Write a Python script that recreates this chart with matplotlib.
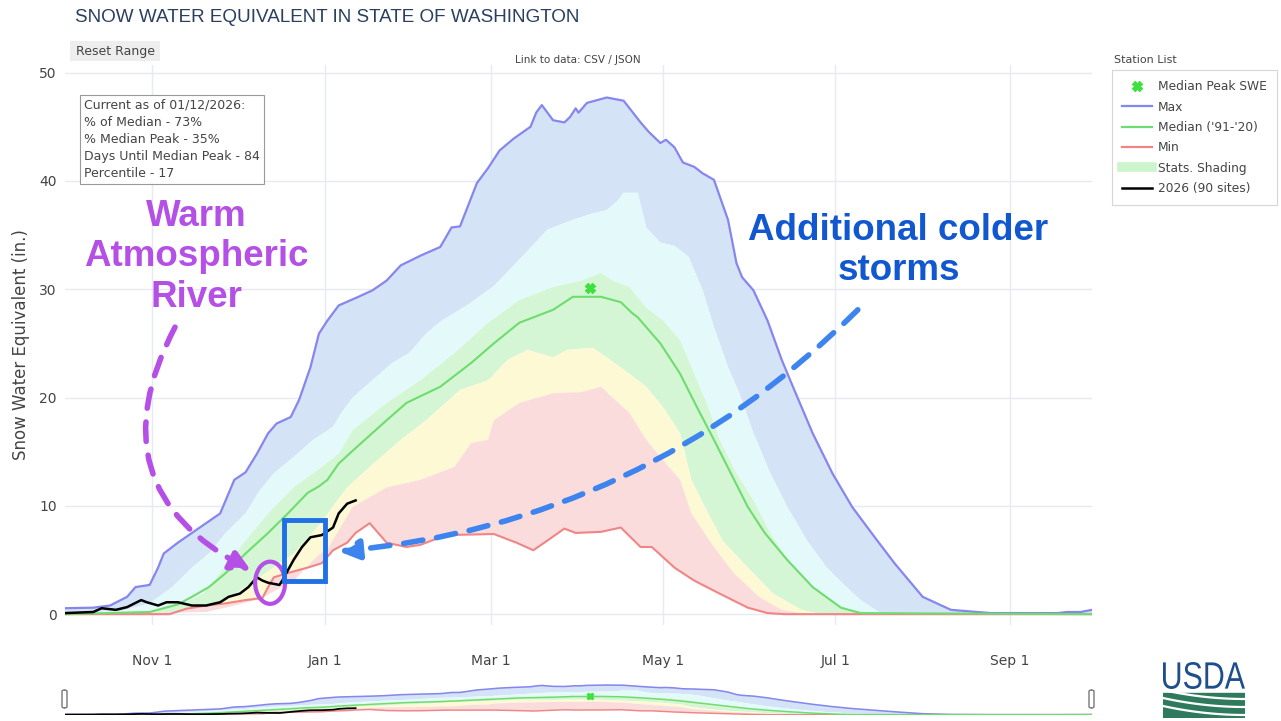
import matplotlib
matplotlib.use("Agg")
import matplotlib.pyplot as plt
from matplotlib.lines import Line2D
from matplotlib.patches import Ellipse, Rectangle, FancyBboxPatch, PathPatch
from matplotlib.textpath import TextPath
from matplotlib.font_manager import FontProperties
from matplotlib.transforms import Affine2D

W, H = 1281, 721

# days are counted from Oct 1 2025 (water year day), values in inches of SWE
max_day = [0, 10, 16, 22, 25, 30, 33, 35, 40, 45, 50, 55, 60, 64, 68, 72, 75, 80, 83, 87,
           90, 93, 97, 104, 109, 114, 119, 126, 133, 137, 140, 143, 146, 150, 154, 159, 165, 167, 169, 171,
           173, 177, 179, 181, 182, 185, 192, 198, 201, 204, 207, 211, 213, 216, 219, 223, 226, 230, 235, 238,
           240, 244, 249, 254, 258, 265, 272, 279, 287, 294, 304, 314, 328, 352, 355, 360, 364]
max_swe = [0.55, 0.6, 0.8, 1.6, 2.5, 2.7, 4.3, 5.6, 6.6, 7.5, 8.4, 9.3, 12.4, 13.1, 14.8, 16.7, 17.6, 18.2, 19.8, 22.8,
           25.9, 27.1, 28.5, 29.3, 29.9, 30.8, 32.2, 33.1, 33.9, 35.7, 35.8, 37.8, 39.8, 41.2, 42.8, 43.9, 45.0, 46.3, 47.0, 46.3,
           45.6, 45.4, 45.9, 46.7, 46.3, 47.2, 47.7, 47.4, 46.4, 45.4, 44.5, 43.5, 43.8, 43.1, 41.7, 41.3, 40.7, 40.1, 36.4, 32.4,
           31.1, 29.9, 27.1, 23.5, 21.0, 16.7, 13.0, 9.9, 7.1, 4.7, 1.6, 0.4, 0.1, 0.1, 0.2, 0.2, 0.4]

p90_day = [0, 20, 30, 38, 45, 51, 57, 64, 69, 74, 81, 88, 95, 98, 102, 109, 116, 122, 128, 133,
           143, 152, 162, 171, 180, 187, 192, 196, 198, 203, 206, 211, 216, 221, 226, 230, 235, 239, 244, 250,
           256, 263, 270, 277, 282, 289, 364]
p90_swe = [0.1, 0.3, 1.0, 2.5, 4.3, 5.6, 7.5, 9.3, 11.4, 13.0, 14.5, 16.1, 17.3, 18.6, 20.0, 21.6, 23.2, 24.1, 25.9, 27.0,
           28.6, 30.3, 33.0, 35.5, 36.4, 37.0, 37.3, 38.2, 38.9, 38.9, 35.7, 34.3, 34.0, 33.0, 29.9, 26.5, 22.8, 20.4, 16.7, 13.0,
           9.9, 6.8, 4.3, 2.5, 1.3, 0.1, 0.0]

p70_day = [0, 30, 42, 49, 55, 64, 72, 81, 90, 97, 102, 114, 126, 138, 150, 161, 173, 183, 190, 194,
           200, 206, 212, 218, 223, 228, 232, 238, 244, 250, 258, 268, 277, 285, 364]
p70_swe = [0.0, 0.3, 1.0, 1.9, 3.8, 6.8, 9.3, 11.7, 13.4, 14.8, 17.0, 19.5, 21.6, 24.1, 26.9, 29.0, 30.2, 30.8, 31.5, 30.8,
           30.2, 28.3, 27.1, 25.3, 22.2, 19.1, 16.1, 13.0, 10.5, 7.5, 4.3, 1.9, 0.4, 0.0, 0.0]

med_day = [0, 30, 40, 45, 51, 57, 64, 72, 79, 86, 90, 93, 97, 102, 114, 121, 133, 144, 152, 161,
           173, 180, 190, 197, 201, 203, 211, 218, 224, 230, 236, 242, 248, 256, 265, 275, 282, 364]
med_swe = [0.0, 0.2, 0.9, 1.6, 2.5, 3.8, 5.6, 7.5, 9.3, 11.2, 11.8, 12.4, 13.9, 15.1, 17.9, 19.5, 21.0, 23.2, 25.0, 26.9,
           28.1, 29.3, 29.3, 28.8, 27.8, 27.4, 25.0, 22.2, 19.1, 16.1, 13.0, 9.9, 7.5, 5.0, 2.5, 0.6, 0.1, 0.0]

p30_day = [0, 40, 50, 57, 69, 81, 90, 100, 108, 119, 128, 140, 150, 157, 164, 173, 178, 187, 192, 200,
           206, 212, 218, 222, 228, 233, 242, 251, 261, 268, 364]
p30_swe = [0.0, 0.1, 0.5, 1.3, 3.4, 5.6, 8.2, 11.7, 13.6, 16.1, 17.9, 20.7, 21.6, 23.5, 24.4, 23.7, 24.4, 24.6, 23.7, 22.2,
           21.0, 19.1, 16.7, 12.4, 9.3, 6.8, 4.3, 1.9, 0.4, 0.0, 0.0]

p10_day = [0, 50, 60, 69, 81, 90, 93, 102, 114, 126, 138, 144, 150, 152, 161, 173, 183, 190, 194, 200,
           206, 212, 218, 222, 230, 237, 246, 254, 262, 364]
p10_swe = [0.0, 0.2, 0.8, 1.4, 3.1, 5.5, 6.0, 9.9, 11.7, 12.4, 13.6, 15.8, 16.1, 17.9, 19.5, 20.4, 20.5, 21.0, 20.0, 18.6,
           16.1, 14.2, 12.4, 9.3, 6.2, 3.8, 1.6, 0.4, 0.0, 0.0]

min_day = [0, 37, 43, 50, 57, 64, 70, 72, 74, 79, 86, 91, 95, 100, 103, 108, 114, 121, 126, 135,
           152, 160, 166, 171, 177, 181, 190, 197, 204, 208, 216, 223, 232, 242, 249, 255, 364]
min_swe = [0.0, 0.0, 0.5, 0.8, 1.0, 1.3, 1.5, 2.5, 3.4, 3.8, 4.3, 4.7, 5.9, 6.6, 7.5, 8.4, 6.6, 6.2, 6.4, 7.3,
           7.4, 6.6, 5.9, 6.8, 7.9, 7.5, 7.6, 8.0, 6.2, 6.2, 4.3, 3.1, 1.9, 0.6, 0.1, 0.0, 0.0]

cur_day = [0, 10, 13, 18, 22, 27, 29, 33, 36, 40, 45, 50, 55, 58, 62, 65, 68, 70, 72, 76,
           77, 81, 84, 87, 91, 95, 97, 100, 103]
cur_swe = [0.1, 0.2, 0.55, 0.4, 0.65, 1.3, 1.1, 0.8, 1.1, 1.1, 0.8, 0.8, 1.1, 1.6, 1.9, 2.5, 3.4, 3.1, 2.9, 2.7,
           3.1, 5.0, 6.2, 7.1, 7.3, 8.0, 9.3, 10.2, 10.5]

peak_day = [186]
peak_swe = [30.1]

tick_days = [31, 92, 151, 212, 273, 335]
tick_labels = ["Nov 1", "Jan 1", "Mar 1", "May 1", "Jul 1", "Sep 1"]

info_lines = ["Current as of 01/12/2026:", "% of Median - 73%", "% Median Peak - 35%",
              "Days Until Median Peak - 84", "Percentile - 17"]

BLUE_FILL = "#d5e3f7"
CYAN_FILL = "#e4fafa"
GREEN_FILL = "#d4f6d4"
YELLOW_FILL = "#fcf9d4"
RED_FILL = "#fadcdc"
MAX_C = "#8686ee"
MED_C = "#6fdc6f"
MIN_C = "#f08585"
TXT = "#444444"
PURPLE = "#b550e6"
BLUE_TXT = "#1157cf"
BLUE_ARROW = "#3d84ee"


def fx(px):
    return px / W


def fy(py):
    return 1 - py / H


def band(a, xu, yu, xl, yl, color):
    xs = list(xu) + list(xl)[::-1]
    ys = list(yu) + list(yl)[::-1]
    a.fill(xs, ys, color=color, lw=0, zorder=1)


def draw_stats(a, s=1.0):
    band(a, max_day, max_swe, p90_day, p90_swe, BLUE_FILL)
    band(a, p90_day, p90_swe, p70_day, p70_swe, CYAN_FILL)
    band(a, p70_day, p70_swe, p30_day, p30_swe, GREEN_FILL)
    band(a, p30_day, p30_swe, p10_day, p10_swe, YELLOW_FILL)
    band(a, p10_day, p10_swe, min_day, min_swe, RED_FILL)
    a.plot(max_day, max_swe, color=MAX_C, lw=1.6 * s, zorder=3)
    a.plot(min_day, min_swe, color=MIN_C, lw=1.5 * s, zorder=3)
    a.plot(med_day, med_swe, color=MED_C, lw=1.5 * s, zorder=4)
    a.plot(cur_day, cur_swe, color="black", lw=1.8 * s, zorder=5)
    a.plot(peak_day, peak_swe, ls="none", marker="X", ms=7 * s, color="#3ee03e", mec="#3ee03e", zorder=6)


fig = plt.figure(figsize=(W / 100, H / 100), dpi=100)
fig.patch.set_facecolor("white")

ax = fig.add_axes([fx(65), fy(625), (1092 - 65) / W, (625 - 65) / H])
draw_stats(ax)
ax.set_xlim(0, 364)
ax.set_ylim(-1.0, 50.7)
ax.set_yticks([0, 10, 20, 30, 40, 50])
ax.set_xticks(tick_days)
ax.set_xticklabels(tick_labels)
ax.tick_params(length=0, labelsize=10, colors=TXT, pad=6)
ax.tick_params(axis="x", pad=21)
ax.grid(color="#e6eaf1", lw=1)
ax.set_axisbelow(True)
for sp in ax.spines.values():
    sp.set_visible(False)
ax.set_ylabel("Snow Water Equivalent (in.)", fontsize=12, color=TXT)
ax.yaxis.set_label_coords((30 - 65) / 1027, (625 - 345) / 560)

# annotations drawn on top of the chart
ax.text(46.5, 33.0, "Warm\nAtmospheric\nRiver", color=PURPLE, fontsize=26.5, fontweight="bold",
        ha="center", va="center", linespacing=1.2, family="Liberation Sans", zorder=10)
ax.annotate("", xy=(66, 4.0), xytext=(39, 26.5),
            arrowprops=dict(arrowstyle="-|>,head_length=1.2,head_width=0.6", color=PURPLE, lw=4,
                            ls=(0, (3.5, 2.5)), connectionstyle="arc3,rad=0.5", shrinkA=0, shrinkB=0),
            zorder=10)
ax.add_patch(Ellipse((72.7, 2.9), 10.6, 3.9, fill=False, ec=PURPLE, lw=3, zorder=10))
ax.add_patch(Rectangle((77.7, 3.1), 14.5, 5.6, fill=False, ec="#1f6fe6", lw=3.5, zorder=10))

ax.text(295.4, 33.6, "Additional colder\nstorms", color=BLUE_TXT, fontsize=26.5, fontweight="bold",
        ha="center", va="center", linespacing=1.2, family="Liberation Sans", zorder=10)
ax.annotate("", xy=(97, 5.8), xytext=(281, 28.1),
            arrowprops=dict(arrowstyle="-|>,head_length=1.2,head_width=0.6", color=BLUE_ARROW, lw=4,
                            ls=(0, (3.5, 2.5)), connectionstyle="arc3,rad=-0.18", shrinkA=0, shrinkB=0),
            zorder=10)

# info box
fig.text(fx(84), fy(99), "\n".join(info_lines), fontsize=9, color=TXT, va="top", ha="left",
         linespacing=1.4,
         bbox=dict(boxstyle="square,pad=0.3", fc="white", ec="#999999", lw=0.8))

# range slider
sl = fig.add_axes([fx(65), fy(715), (1092 - 65) / W, 32 / H])
draw_stats(sl, s=0.7)
sl.set_xlim(0, 364)
sl.set_ylim(-0.5, 51)
sl.axis("off")
for px in (64.5, 1091.5):
    fig.patches.append(FancyBboxPatch((fx(px - 2.5), fy(708)), 5 / W, 18 / H, boxstyle="round,pad=0,rounding_size=0.002",
                                      transform=fig.transFigure, fc="white", ec="#777777", lw=1))

# header texts
fig.text(fx(75), fy(17), "SNOW WATER EQUIVALENT IN STATE OF WASHINGTON", fontsize=13.6, color="#2a3f5f",
         va="center", ha="left", family="Liberation Sans")
fig.patches.append(Rectangle((fx(70), fy(61)), 90 / W, 20 / H, transform=fig.transFigure,
                             fc="#eeeeee", ec="none"))
fig.text(fx(115), fy(51), "Reset Range", fontsize=9, color=TXT, ha="center", va="center")
fig.text(fx(578), fy(60), "Link to data: CSV / JSON", fontsize=7.5, color=TXT, ha="center", va="center")
fig.text(fx(1114), fy(60), "Station List", fontsize=8, color=TXT, ha="left", va="center")

handles = [
    Line2D([], [], ls="none", marker="X", ms=7, color="#3ee03e"),
    Line2D([], [], color=MAX_C, lw=1.6),
    Line2D([], [], color=MED_C, lw=1.6),
    Line2D([], [], color=MIN_C, lw=1.6),
    Line2D([], [], color="#cdf5cd", lw=7),
    Line2D([], [], color="black", lw=1.8),
]
labels = ["Median Peak SWE", "Max", "Median ('91-'20)", "Min", "Stats. Shading", "2026 (90 sites)"]
leg = fig.legend(handles, labels, loc="upper left", bbox_to_anchor=(fx(1112), fy(70)), fontsize=8.8,
                 frameon=True, fancybox=False, edgecolor="#cccccc", handlelength=2.4, labelspacing=0.6,
                 borderpad=0.85, handletextpad=0.5, borderaxespad=0)
leg.get_frame().set_linewidth(0.8)
for t in leg.get_texts():
    t.set_color(TXT)

# USDA logo: letters squeezed into the logo box, green swooshes below
logo = fig.add_axes([fx(1163), fy(718), 82 / W, 58 / H])
logo.set_xlim(0, 82)
logo.set_ylim(0, 58)
logo.axis("off")
tp = TextPath((0, 0), "USDA", size=20, prop=FontProperties(family="Liberation Sans"))
ext = tp.get_extents()
tf = Affine2D().translate(-ext.x0, -ext.y0).scale(82 / ext.width, 27 / ext.height).translate(0, 29)
logo.add_patch(PathPatch(tf.transform_path(tp), fc="#1f4e8c", ec="none"))
logo.fill([0, 82, 82, 0], [0, 0, 25, 25], color="#2f7a5c")
for off in (0, 8, 16):
    xs = [i * 82 / 20 for i in range(21)]
    logo.plot(xs, [3 + off + 9 * (1 - x / 82) ** 2 for x in xs], color="white", lw=1.6)

fig.savefig("out.png", dpi=100)
